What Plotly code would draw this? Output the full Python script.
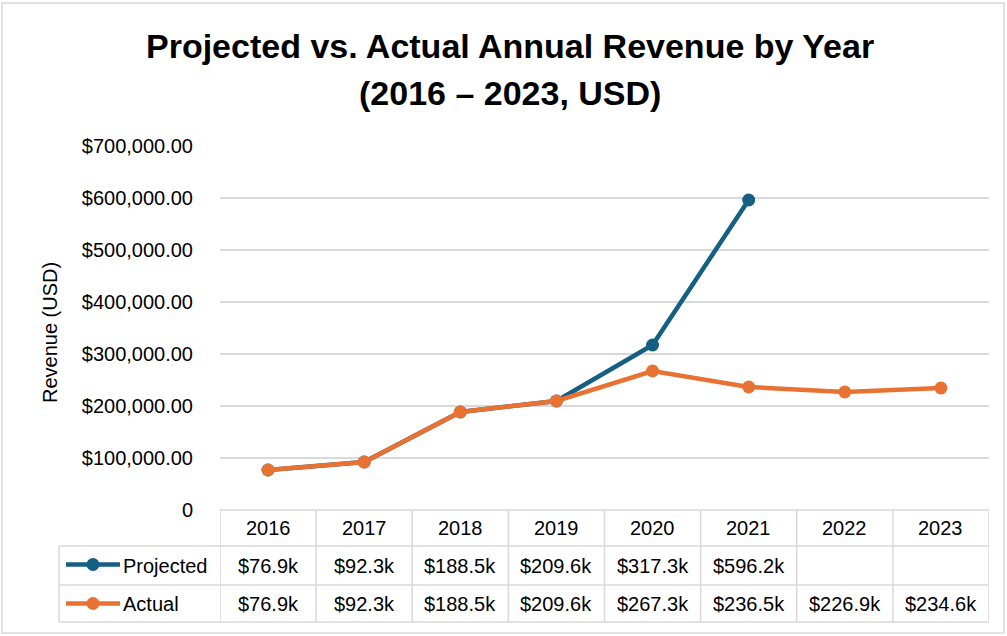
import plotly.graph_objects as go

# ---------------- data ----------------
categories = ["2016", "2017", "2018", "2019", "2020", "2021", "2022", "2023"]
projected = [76900, 92300, 188500, 209600, 317300, 596200, None, None]
actual = [76900, 92300, 188500, 209600, 267300, 236500, 226900, 234600]
series_names = ["Projected", "Actual"]
tick_values = [0, 100000, 200000, 300000, 400000, 500000, 600000, 700000]
tick_labels = ["0", "$100,000.00", "$200,000.00", "$300,000.00", "$400,000.00",
               "$500,000.00", "$600,000.00", "$700,000.00"]
title_line1 = "Projected vs. Actual Annual Revenue by Year"
title_line2 = "(2016 – 2023, USD)"
y_title = "Revenue (USD)"

BLUE = "#156082"
ORANGE = "#E97132"
GRID = "#D9D9D9"
FONT = "Liberation Sans"
TXT = "#000000"

W, H = 1007, 636


def px(x):
    return x / W


def py(y):
    return 1 - y / H


fig = go.Figure()
n = len(categories)
xs = list(range(n))

for vals, name, col in [(projected, series_names[0], BLUE), (actual, series_names[1], ORANGE)]:
    fig.add_trace(go.Scatter(
        x=xs, y=vals, mode="lines+markers", name=name,
        line=dict(color=col, width=4.5),
        marker=dict(color=col, size=13),
        connectgaps=False, showlegend=False, cliponaxis=False,
    ))

PLOT_L, PLOT_R, PLOT_T, PLOT_B = 220, 989, 146, 510

fig.update_layout(
    template="none",
    width=W, height=H, autosize=False,
    margin=dict(l=0, r=0, t=0, b=0, pad=0, autoexpand=False),
    paper_bgcolor="white", plot_bgcolor="white",
    font=dict(family=FONT, color=TXT, size=20),
    xaxis=dict(domain=[px(PLOT_L), px(PLOT_R)], range=[-0.5, n - 0.5],
               showticklabels=False, showgrid=False, zeroline=False, showline=False,
               automargin=False, fixedrange=True),
    yaxis=dict(domain=[py(PLOT_B), py(PLOT_T)], range=[0, 700000],
               tickvals=tick_values, ticktext=tick_labels,
               showgrid=True, gridcolor=GRID, gridwidth=1.5,
               zeroline=False, showline=False, ticks="",
               ticklabelstandoff=26, automargin=False,
               tickfont=dict(family=FONT, size=20, color=TXT),
               fixedrange=True),
)

shapes = []
# outer border
shapes.append(dict(type="rect", xref="paper", yref="paper",
                   x0=px(2), x1=px(1004), y0=py(3), y1=py(633),
                   line=dict(color=GRID, width=1.5)))

# data table lines
ROW_TOP, ROW1, ROW2, ROW_BOT = 510, 546, 585, 622
TBL_L = 59
line_style = dict(color=GRID, width=1.5)
shapes.append(dict(type="line", xref="x", yref="paper", x0=-0.5, x1=n - 0.5,
                   y0=py(ROW_TOP), y1=py(ROW_TOP), line=line_style))
for yy in (ROW1, ROW2, ROW_BOT):
    shapes.append(dict(type="line", xref="paper", yref="paper", x0=px(TBL_L), x1=px(PLOT_R),
                       y0=py(yy), y1=py(yy), line=line_style))
for i in range(n + 1):
    shapes.append(dict(type="line", xref="x", yref="paper", x0=i - 0.5, x1=i - 0.5,
                       y0=py(ROW_TOP), y1=py(ROW_BOT), line=line_style))
shapes.append(dict(type="line", xref="paper", yref="paper", x0=px(TBL_L), x1=px(TBL_L),
                   y0=py(ROW1), y1=py(ROW_BOT), line=line_style))

# legend keys in table row headers
for yy, col in [((ROW1 + ROW2) / 2 - 1, BLUE), ((ROW2 + ROW_BOT) / 2, ORANGE)]:
    shapes.append(dict(type="line", xref="paper", yref="paper", x0=px(66), x1=px(120),
                       y0=py(yy), y1=py(yy), line=dict(color=col, width=4.5)))
    shapes.append(dict(type="circle", xref="paper", yref="paper",
                       x0=px(93 - 6.5), x1=px(93 + 6.5), y0=py(yy + 6.5), y1=py(yy - 6.5),
                       fillcolor=col, line=dict(color=col, width=0)))

annotations = []


def ann(text, x, y, xref="paper", size=20, xanchor="center", **kw):
    annotations.append(dict(text=text, xref=xref, yref="paper", x=x, y=y,
                            xanchor=xanchor, yanchor="middle", showarrow=False,
                            font=dict(family=FONT, size=size, color=TXT), **kw))


# title
ann(f"<b>{title_line1}</b>", px(510), py(46), size=34)
ann(f"<b>{title_line2}</b>", px(510), py(93), size=34)
# y-axis title
ann(y_title, px(50), py(333), textangle=-90)

# table header (categories)
for i, c in enumerate(categories):
    ann(c, i, py((ROW_TOP + ROW1) / 2), xref="x")


def fmt(v):
    return "" if v is None else f"${v / 1000:,.1f}k"


for row_vals, name, yc in [(projected, series_names[0], (ROW1 + ROW2) / 2),
                           (actual, series_names[1], (ROW2 + ROW_BOT) / 2)]:
    ann(name, px(121), py(yc), xanchor="left")
    for i, v in enumerate(row_vals):
        ann(fmt(v), i, py(yc), xref="x")

fig.update_layout(shapes=shapes, annotations=annotations)

fig.write_html("out.html")
